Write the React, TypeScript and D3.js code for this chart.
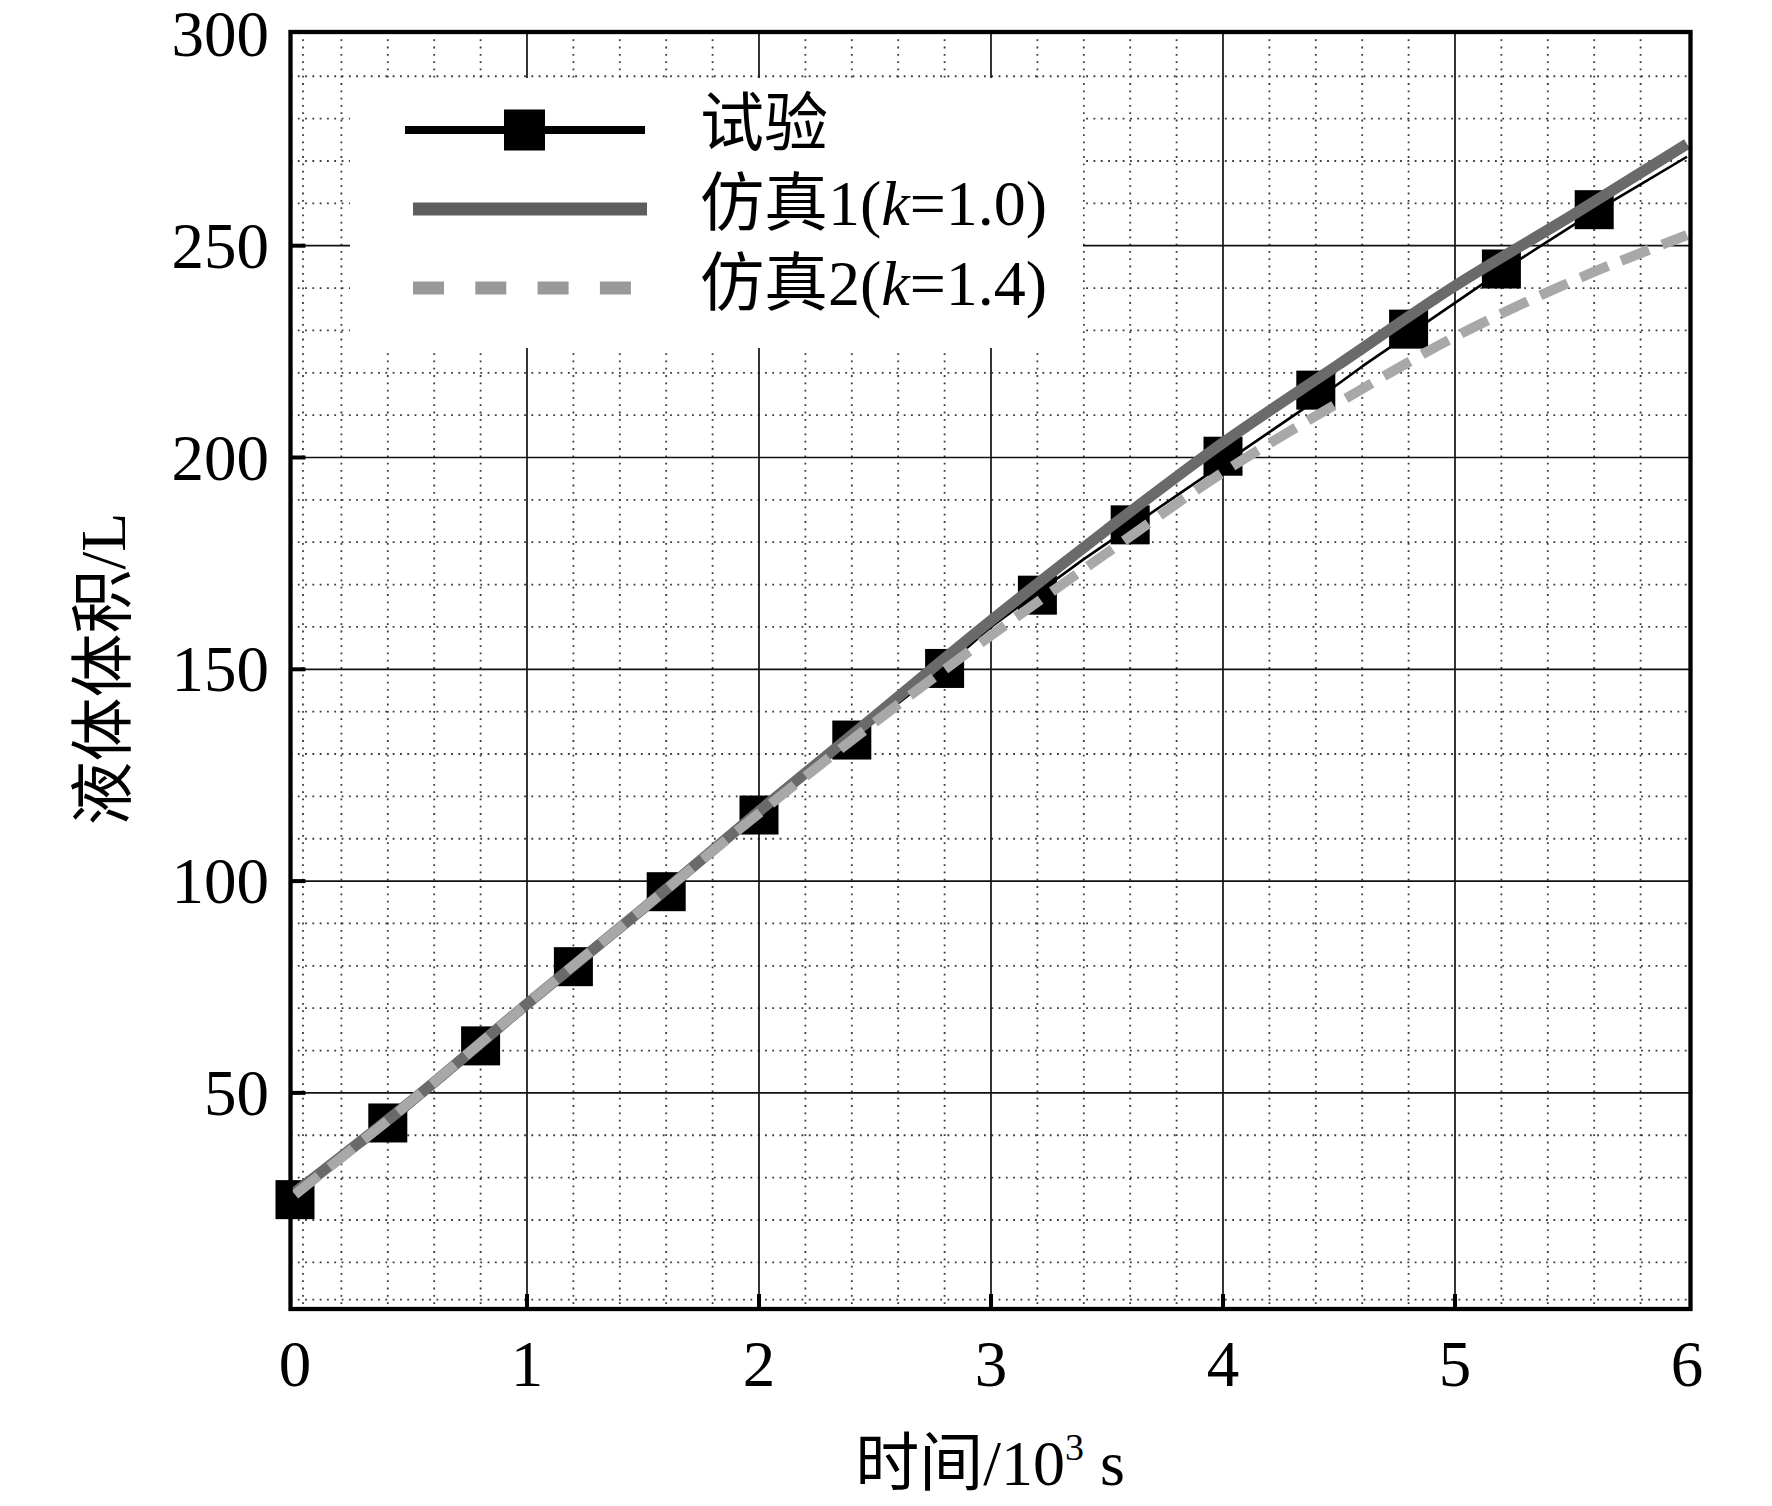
import React from 'react';
import * as d3 from 'd3';

const W = 1772;
const H = 1506;

// ---- data ----
const xTicks = [0, 1, 2, 3, 4, 5, 6];
const yTicks = [50, 100, 150, 200, 250, 300];

// 试验 markers
const markerTime = [0, 0.4, 0.8, 1.2, 1.6, 2.0, 2.4, 2.8, 3.2, 3.6, 4.0, 4.4, 4.8, 5.2, 5.6];
const markerVolume = [24.8, 42.9, 61.1, 79.8, 97.5, 115.6, 133.3, 150.2, 167.5, 184.1, 200.3, 215.9, 230.3, 244.5, 258.5];

// 试验 continuous line
const expTime = [0, 0.2, 0.4, 0.6, 0.8, 1.0, 1.2, 1.4, 1.6, 1.8, 2.0, 2.2, 2.4, 2.6, 2.8, 3.0, 3.2, 3.4, 3.6, 3.8, 4.0, 4.2, 4.4, 4.6, 4.8, 5.0, 5.2, 5.4, 5.6, 5.8, 6.0];
const expVolume = [25.5, 34, 42, 51.5, 61.5, 70.5, 79.5, 88.5, 97.5, 106.5, 115.5, 124.5, 133.5, 142, 150.5, 160, 168, 176, 183.5, 191, 198.5, 206, 213.5, 221.5, 229, 236.5, 244, 251, 258, 264.5, 271];

// 仿真 curves
const simTime = [0, 0.5, 1, 1.5, 2, 2.5, 3, 3.5, 4, 4.5, 5, 5.5, 6];
const sim1Volume = [26.5, 48, 71, 93.5, 116.5, 139, 161.5, 183, 203.5, 222, 240.5, 257, 274];
const sim2Volume = [26, 48, 71, 93.5, 116, 137.5, 158, 177.5, 196.5, 213, 228.5, 241.5, 252.5];

const xMinor = [0.2, 0.4, 0.6, 0.8, 1.2, 1.4, 1.6, 1.8, 2.2, 2.4, 2.6, 2.8, 3.2, 3.4, 3.6, 3.8, 4.2, 4.4, 4.6, 4.8, 5.2, 5.4, 5.6, 5.8];
const yMinor = [10, 20, 30, 40, 60, 70, 80, 90, 110, 120, 130, 140, 160, 170, 180, 190, 210, 220, 230, 240, 260, 270, 280, 290];

const FONT = "'Liberation Serif', 'Times New Roman', 'Noto Sans CJK SC', serif";

export default function App() {
  const x = d3.scaleLinear().domain([0, 6]).range([295, 1687]);
  const y = d3.scaleLinear().domain([0, 300]).range([1304.7, 33.9]);

  const frame = { left: 290.5, top: 32, right: 1690.5, bottom: 1309 };

  const expPts = expTime.map((t, i) => [t, expVolume[i]] as [number, number]);
  const s1Pts = simTime.map((t, i) => [t, sim1Volume[i]] as [number, number]);
  const s2Pts = simTime.map((t, i) => [t, sim2Volume[i]] as [number, number]);

  const lin = d3.line<[number, number]>().x(d => x(d[0])).y(d => y(d[1]));
  const smooth = d3.line<[number, number]>().x(d => x(d[0])).y(d => y(d[1])).curve(d3.curveMonotoneX);

  const dotStyle = { stroke: '#3a3a3a', strokeWidth: 1.8, strokeDasharray: '1.8 5.5' };
  const majorStyle = { stroke: '#111', strokeWidth: 1.7 };

  const sq = 39;
  const lsq = 41;

  return (
    <div style={{ position: 'absolute', left: 0, top: 0 }}>
      <svg width={W} height={H} viewBox={`0 0 ${W} ${H}`} style={{ display: 'block', background: '#fff' }}>
        <rect x={0} y={0} width={W} height={H} fill="#fff" />
        {/* minor grid */}
        <g fill="none">
          {xMinor.map(v => (
            <line key={'xm' + v} x1={x(v)} x2={x(v)} y1={frame.top} y2={frame.bottom} {...dotStyle} />
          ))}
          {yMinor.map(v => (
            <line key={'ym' + v} x1={frame.left} x2={frame.right} y1={y(v)} y2={y(v)} {...dotStyle} />
          ))}
          <line x1={x(0) + 8} x2={x(0) + 8} y1={frame.top} y2={frame.bottom} {...dotStyle} />
          <line x1={frame.left} x2={frame.right} y1={y(0) - 5} y2={y(0) - 5} {...dotStyle} />
        </g>
        {/* major grid */}
        <g>
          {xTicks.slice(1, -1).map(v => (
            <line key={'xM' + v} x1={x(v)} x2={x(v)} y1={frame.top} y2={frame.bottom} {...majorStyle} />
          ))}
          {yTicks.slice(0, -1).map(v => (
            <line key={'yM' + v} x1={frame.left} x2={frame.right} y1={y(v)} y2={y(v)} {...majorStyle} />
          ))}
        </g>
        {/* inward ticks */}
        <g stroke="#000" strokeWidth={4}>
          {xTicks.slice(1, -1).map(v => (
            <line key={'xt' + v} x1={x(v)} x2={x(v)} y1={frame.bottom} y2={frame.bottom - 15} />
          ))}
          {yTicks.slice(0, -1).map(v => (
            <line key={'yt' + v} x1={frame.left} x2={frame.left + 15} y1={y(v)} y2={y(v)} />
          ))}
        </g>

        {/* legend background */}
        <rect x={350} y={78} width={733} height={270} fill="#fff" />

        {/* data */}
        <g fill="#000">
          {markerTime.map((t, i) => (
            <rect key={'m' + i} x={x(t) - sq / 2} y={y(markerVolume[i]) - sq / 2} width={sq} height={sq} />
          ))}
        </g>
        <path d={lin(expPts) || ''} fill="none" stroke="#000" strokeWidth={2.6} strokeLinejoin="round" />
        <path d={smooth(s1Pts) || ''} fill="none" stroke="#6a6a6a" strokeWidth={11} />
        <path d={smooth(s2Pts) || ''} fill="none" stroke="#a8a8a8" strokeWidth={10} strokeDasharray="30 14" />

        {/* frame */}
        <rect x={frame.left} y={frame.top} width={frame.right - frame.left} height={frame.bottom - frame.top}
          fill="none" stroke="#000" strokeWidth={4.3} />

        {/* legend */}
        <g>
          <line x1={405} x2={645} y1={130} y2={130} stroke="#000" strokeWidth={8} />
          <rect x={524.5 - lsq / 2} y={130 - lsq / 2} width={lsq} height={lsq} fill="#000" />
          <line x1={413} x2={647} y1={209} y2={209} stroke="#5e5e5e" strokeWidth={13} />
          <line x1={413} x2={631} y1={288} y2={288} stroke="#999" strokeWidth={13} strokeDasharray="31 31.3" />
          <g fontFamily={FONT} fontSize={64} fill="#000">
            <text x={700} y={145}>试验</text>
            <text x={700} y={225}>仿真1(<tspan fontStyle="italic">k</tspan>=1.0)</text>
            <text x={700} y={305}>仿真2(<tspan fontStyle="italic">k</tspan>=1.4)</text>
          </g>
        </g>

        {/* tick labels */}
        <g fontFamily={FONT} fontSize={65} fill="#000">
          {yTicks.map(v => (
            <text key={'yl' + v} x={269} y={y(v) + 22} textAnchor="end">{v}</text>
          ))}
          {xTicks.map(v => (
            <text key={'xl' + v} x={x(v)} y={1386} textAnchor="middle">{v}</text>
          ))}
        </g>

        {/* axis titles */}
        <g fontFamily={FONT} fontSize={64} fill="#000">
          <text x={990} y={1485} textAnchor="middle">
            时间/10<tspan fontSize={38} dy={-25}>3</tspan><tspan dy={25}> s</tspan>
          </text>
          <text transform="translate(125,669) rotate(-90)" textAnchor="middle">液体体积/L</text>
        </g>
      </svg>
    </div>
  );
}
